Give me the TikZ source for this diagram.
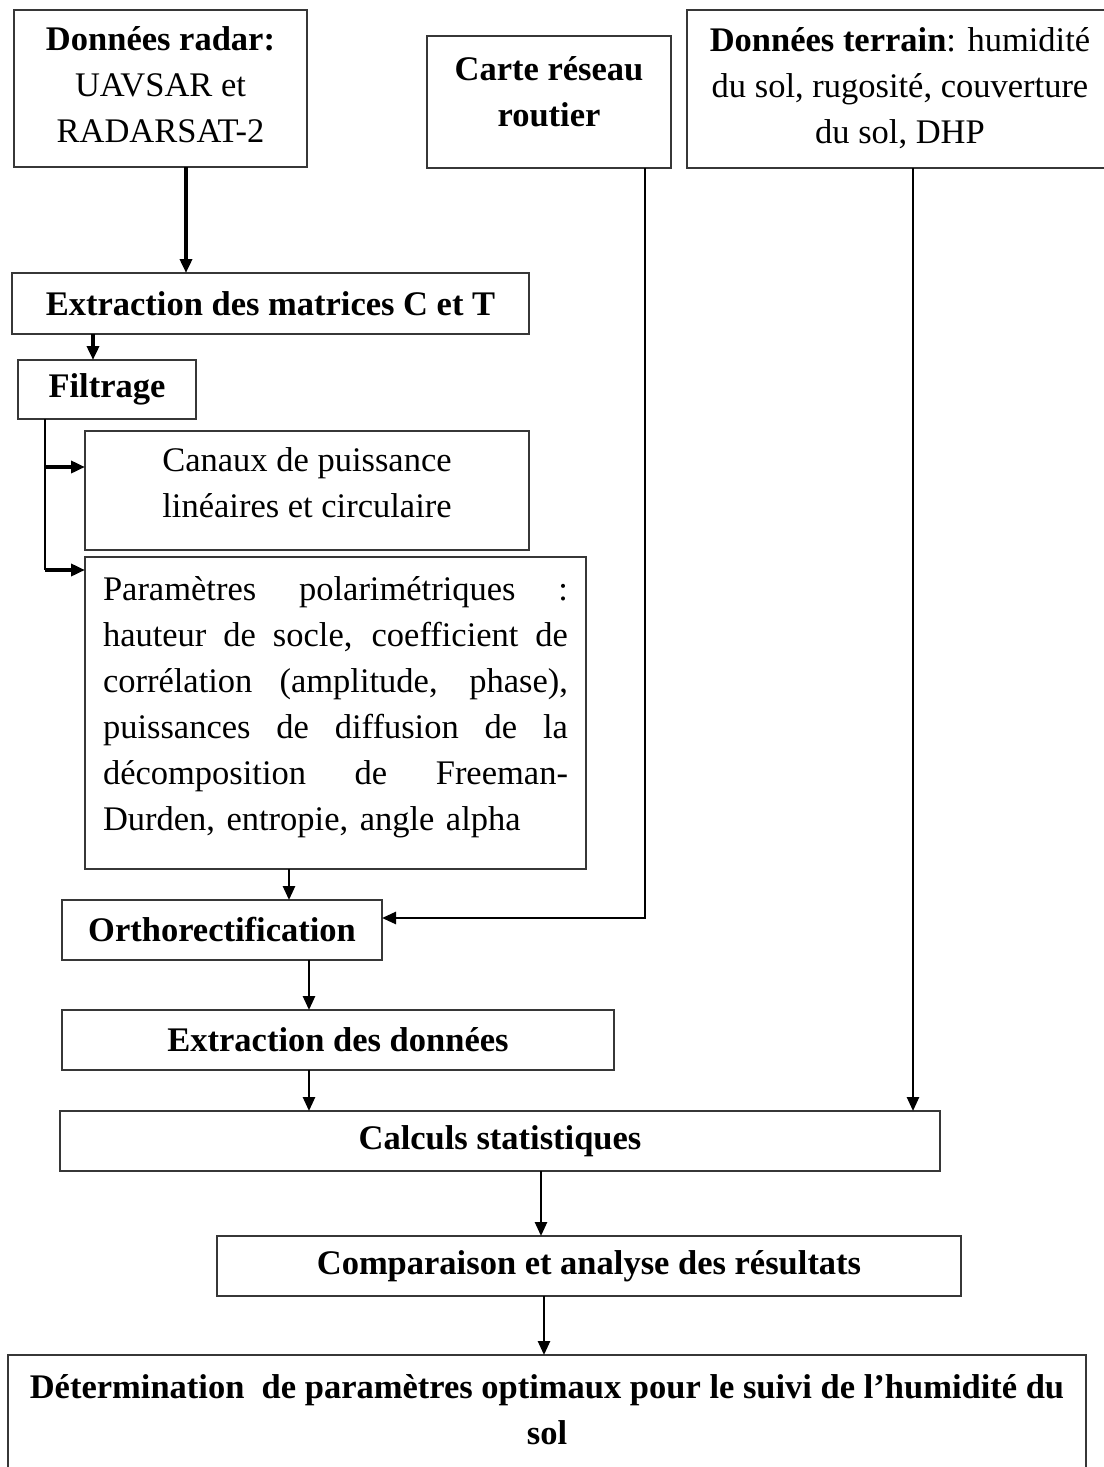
\documentclass[tikz,border=0pt]{standalone}
\usepackage{fontspec}
\setmainfont{Liberation Serif}
\usepackage{tikz}
\usetikzlibrary{positioning,calc}
\usetikzlibrary{arrows.meta}
\definecolor{FrameGray}{RGB}{55,55,55}
\newcommand{\lowstrut}[1]{\rule[-#1]{0pt}{#1}}
\newcommand{\jline}[1]{\makebox[465pt][s]{\spaceskip=0pt #1}}
\tikzset{
  blk/.style={draw=FrameGray,line width=1.6pt,rectangle,anchor=north west,inner sep=0pt,outer sep=0pt,
    align=center,font=\fontsize{34.5}{46}\selectfont},
  link/.style={draw=black,line width=2.6pt,-{Triangle[length=14pt,width=12pt]}},
}

\begin{document}
\begin{tikzpicture}[x=1pt,y=-1pt]
\useasboundingbox (0,0) rectangle (1103,1467);
% sources
\node[blk,minimum width=293pt,minimum height=157pt](radar) at (14,10){\textbf{Données radar:}\\UAVSAR et\\RADARSAT-2\lowstrut{7pt}};
\node[blk,minimum width=244pt,minimum height=132pt](carte) at (427,36){\textbf{Carte réseau}\\\textbf{routier}\lowstrut{21pt}};
\node[blk,minimum width=426pt,minimum height=158pt](terrain) at (687,10){\textbf{Données terrain}: humidité\\du sol, rugosité, couverture\\du sol, DHP\lowstrut{7pt}};
% traitement radar
\node[blk,minimum width=517pt,minimum height=61pt](extrC) at (12,273){\textbf{Extraction des matrices C et T}};
\node[blk,minimum width=178pt,minimum height=59pt](filtre) at (18,360){\textbf{Filtrage}};
\node[blk,minimum width=444pt,minimum height=119pt](canaux) at (85,431){Canaux de puissance\\linéaires et circulaire\lowstrut{15pt}};
\node[blk,minimum width=501pt,minimum height=312pt,text width=465pt,align=left](param) at (85,557){%
\jline{Paramètres polarimétriques :}\\
\jline{hauteur de socle, coefficient de}\\
\jline{corrélation (amplitude, phase),}\\
\jline{puissances de diffusion de la}\\
\jline{décomposition de Freeman-}\\
Durden, entropie, angle alpha\lowstrut{19pt}};
\node[blk,minimum width=320pt,minimum height=60pt](ortho) at (62,900){\textbf{Orthorectification}};
\node[blk,minimum width=552pt,minimum height=60pt](extrD) at (62,1010){\textbf{Extraction des données}};
% analyse
\node[blk,minimum width=880pt,minimum height=60pt](calculs) at (60,1111){\textbf{Calculs statistiques}};
\node[blk,minimum width=744pt,minimum height=60pt](compar) at (217,1236){\textbf{Comparaison et analyse des résultats}};
\node[blk,minimum width=1078pt,minimum height=125pt](determ) at (8,1355){\textbf{Détermination\ \ de paramètres optimaux pour le suivi de l’humidité du}\\\textbf{sol}\lowstrut{16pt}};
% liens
\coordinate (r1) at ([xshift=25.5pt]radar.south);
\draw[link,line width=4pt] (r1) -- (r1 |- extrC.north);
\coordinate (e1) at ([xshift=-14pt]filtre.north);
\draw[link,line width=4pt] (e1 |- extrC.south) -- (e1);
\coordinate (f0) at ([xshift=-62pt]filtre.south);
\coordinate (fa) at ([yshift=-36pt]canaux.north west);
\coordinate (fb) at ([yshift=-13pt]param.north west);
\draw[line width=2pt] (f0) -- (f0 |- fb);
\draw[link,line width=4pt] (f0 |- fa) -- (fa);
\draw[link,line width=4pt] (f0 |- fb) -- (fb);
\coordinate (p1) at ([xshift=67pt]ortho.north);
\draw[link] (p1 |- param.south) -- (p1);
\coordinate (c1) at ([xshift=96pt]carte.south);\coordinate (o1) at ([yshift=12pt]ortho.east);
\draw[link] (c1) |- (o1);
\coordinate (o2) at ([xshift=87pt]ortho.south);
\draw[link] (o2) -- (o2 |- extrD.north);
\coordinate (d1) at ([xshift=-29pt]extrD.south);
\draw[link] (d1) -- (d1 |- calculs.north);
\coordinate (t1) at ([xshift=13pt]terrain.south);
\draw[link] (t1) -- (t1 |- calculs.north);
\coordinate (s1) at ([xshift=41pt]calculs.south);
\draw[link] (s1) -- (s1 |- compar.north);
\coordinate (m1) at ([xshift=-45pt]compar.south);
\draw[link] (m1) -- (m1 |- determ.north);
\end{tikzpicture}
\end{document}
